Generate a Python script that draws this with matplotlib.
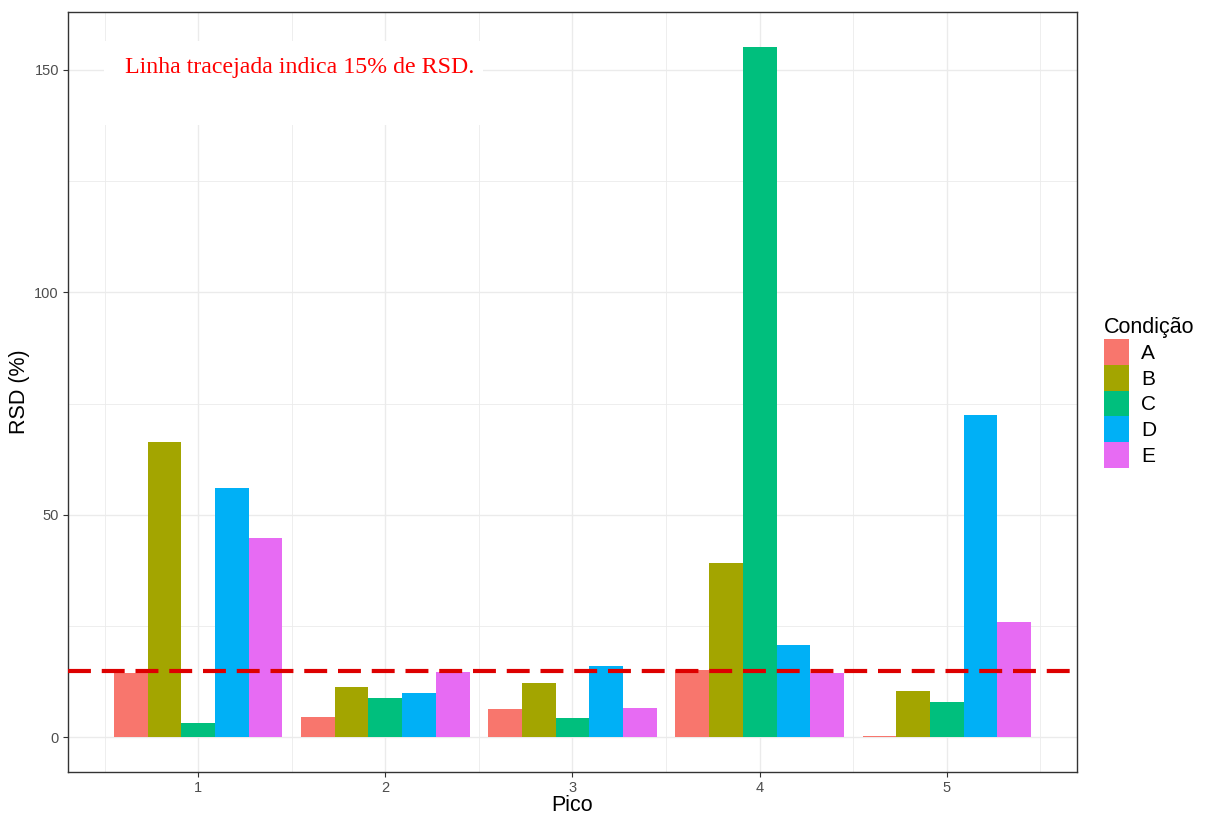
import matplotlib
matplotlib.use("Agg")
import matplotlib.pyplot as plt
from matplotlib.patches import Patch, Rectangle
import numpy as np

# ---- data ----
picos = [1, 2, 3, 4, 5]
condicoes = ["A", "B", "C", "D", "E"]
rsd_A = [14.5, 4.5, 6.4, 15.1, 0.3]
rsd_B = [66.4, 11.4, 12.3, 39.3, 10.5]
rsd_C = [3.2, 8.8, 4.3, 155.2, 8.0]
rsd_D = [56.1, 9.9, 16.1, 20.8, 72.5]
rsd_E = [44.8, 14.7, 6.6, 14.4, 25.9]
limite_rsd = 15
y_ticks = [0, 50, 100, 150]
anotacao = "Linha tracejada indica 15% de RSD."

series = [rsd_A, rsd_B, rsd_C, rsd_D, rsd_E]
cores = ["#F8766D", "#A3A500", "#00BF7D", "#00B0F6", "#E76BF3"]

W, H = 1207, 816
fig = plt.figure(figsize=(W / 100, H / 100), dpi=100)
L, R, T, B = 68, 1077, 12, 772
ax = fig.add_axes([L / W, 1 - B / H, (R - L) / W, (B - T) / H])

bw = 0.18
x = np.array(picos, dtype=float)
for i, (vals, c) in enumerate(zip(series, cores)):
    ax.bar(x + (i - 2) * bw, vals, width=bw, color=c, linewidth=0, zorder=3)

ax.axhline(limite_rsd, color="#DD0000", lw=3, linestyle=(0, (5.5, 2.6)),
           dash_capstyle="butt", zorder=4)

# ranges (ggplot-like 5% expansion)
xmin, xmax = 1 - 2.5 * bw, 5 + 2.5 * bw
dx = (xmax - xmin) * 0.05
ax.set_xlim(xmin - dx, xmax + dx)
ymax = max(max(s) for s in series)
dy = ymax * 0.05
ax.set_ylim(-dy, ymax + dy)

ax.set_xticks(picos)
ax.set_xticks([p - 0.5 for p in picos] + [5.5], minor=True)
ax.set_yticks(y_ticks)
ax.set_yticks([25, 75, 125], minor=True)
ax.grid(which="major", color="#EBEBEB", lw=1.0, zorder=0)
ax.grid(which="minor", color="#EBEBEB", lw=0.6, zorder=0)
ax.set_axisbelow(True)
ax.tick_params(which="minor", length=0)
ax.tick_params(which="major", length=3.5, width=0.8, color="#333333",
               labelcolor="#4D4D4D", labelsize=10.5, pad=3)
for s in ax.spines.values():
    s.set_color("#333333")
    s.set_linewidth(1.0)

lab_font = {"family": "Liberation Sans", "size": 15.5, "color": "black"}
ax.set_xlabel("Pico", fontdict=lab_font, labelpad=0)
ax.set_ylabel("RSD (%)", fontdict=lab_font, labelpad=3)
for t in ax.get_xticklabels() + ax.get_yticklabels():
    t.set_fontfamily("Liberation Sans")

# annotation with white background box
ax.add_patch(Rectangle(((104 - L) / (R - L), (B - 125) / (B - T)),
                       (483 - 104) / (R - L), (125 - 41) / (B - T),
                       transform=ax.transAxes, facecolor="white",
                       edgecolor="none", zorder=2))
ax.text((300 - L) / (R - L), (B - 68) / (B - T), anotacao,
        transform=ax.transAxes, ha="center", va="center",
        fontfamily="Liberation Serif", fontsize=17.2, color="red", zorder=5)

handles = [Patch(facecolor=c, edgecolor="none") for c in cores]
leg = fig.legend(handles, condicoes, title="Condição",
                 loc="upper left", bbox_to_anchor=(1089 / W, 1 - 302 / H),
                 frameon=False, prop={"family": "Liberation Sans", "size": 15},
                 title_fontproperties={"family": "Liberation Sans", "size": 15.5},
                 handlelength=1.2, handleheight=1.53, labelspacing=0.0,
                 handletextpad=0.6, borderpad=0.2, alignment="left")
leg._legend_box.sep = 1

fig.savefig("out.png", dpi=100)
